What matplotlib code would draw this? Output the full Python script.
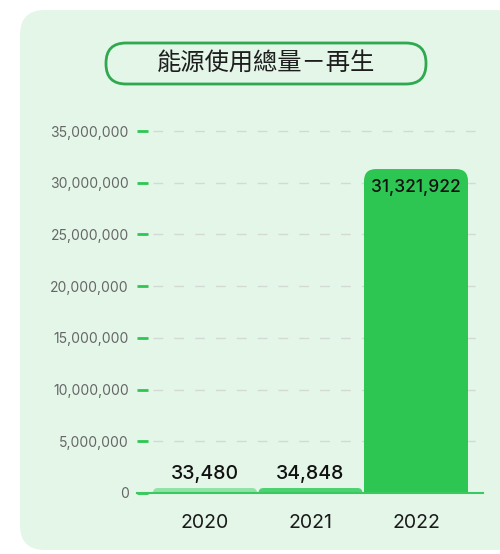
import matplotlib
matplotlib.use("Agg")
import matplotlib.pyplot as plt
from matplotlib.patches import FancyBboxPatch
from matplotlib.ticker import FuncFormatter

# ---- data ----
title = "能源使用總量－再生"
categories = ["2020", "2021", "2022"]
values = [33480, 34848, 31321922]
bar_colors = ["#8fe3a5", "#4dd271", "#2dc653"]
yticks = [0, 5000000, 10000000, 15000000, 20000000, 25000000, 30000000, 35000000]

W, H = 500, 554
fig = plt.figure(figsize=(W / 100, H / 100), dpi=100)
fig.patch.set_facecolor("white")

panel_color = "#e3f6e8"
panel = FancyBboxPatch((20 / W, 1 - 550 / H), 500 / W, 540 / H,
                       boxstyle="round,pad=0,rounding_size=0.05",
                       mutation_aspect=W / H,
                       transform=fig.transFigure, fc=panel_color, ec="none", zorder=-3)
fig.patches.append(panel)

tb = FancyBboxPatch((106 / W, 1 - 84 / H), 320 / W, 41 / H,
                    boxstyle="round,pad=0,rounding_size=0.04",
                    mutation_aspect=W / H,
                    transform=fig.transFigure, fc=panel_color, ec="#2fa84f", lw=2, zorder=-2)
fig.patches.append(tb)
fig.text(266 / W, 1 - 64 / H, title, ha="center", va="center", fontsize=17.5,
         family=["Noto Sans CJK TC", "DejaVu Sans"], fontweight="medium",
         color="#1e1e1e", zorder=2)

ax = fig.add_axes([137 / W, 1 - 493 / H, (483 - 137) / W, (493 - 122) / H])
ax.set_facecolor("none")
px_per_unit_x = 105.5
ymax = 35000000 * (493 - 122) / (493 - 131)
ax.set_xlim(-(205 - 137) / px_per_unit_x, (483 - 205) / px_per_unit_x)
ax.set_ylim(0, ymax)

ux = 1 / px_per_unit_x
uy = 35000000 / (493 - 131)
aspect = uy / ux

green = "#2dc653"
bw = 104 / px_per_unit_x
xs = list(range(len(categories)))
for x, v, c in zip(xs, values, bar_colors):
    big = v > 50 * uy
    r_px = 12 if big else 5
    h_disp = max(v, 5 * uy)
    r = r_px * ux
    p = FancyBboxPatch((x - bw / 2, -r_px * uy), bw, h_disp + r_px * uy,
                       boxstyle=f"round,pad=0,rounding_size={r}",
                       mutation_aspect=aspect, fc=c, ec="none", zorder=3)
    ax.add_patch(p)
    label = f"{v:,}"
    if big:
        ax.annotate(label, (x, v), xytext=(0, -13), textcoords="offset points",
                    ha="center", va="center", fontsize=12.5, fontweight="medium",
                    family="Inter", color="#111111", zorder=4)
    else:
        ax.annotate(label, (x, h_disp), xytext=(0, 10), textcoords="offset points",
                    ha="center", va="center", fontsize=14, fontweight="medium",
                    family="Inter", color="#111111", zorder=4)

ax.hlines(yticks[1:], -0.49, ax.get_xlim()[1], colors="#d3dad4", lw=1,
          linestyles=(0, (7, 8)), zorder=1)

ax.set_yticks(yticks)
ax.yaxis.set_major_formatter(FuncFormatter(lambda v, p: f"{int(v):,}"))
ax.set_xticks(xs)
ax.set_xticklabels(categories)
ax.tick_params(axis="y", direction="in", length=8, width=2, color=green, pad=6,
               labelsize=10, labelcolor="#666666")
ax.tick_params(axis="x", length=0, pad=15, labelsize=14, labelcolor="#1a1a1a")
for lab in ax.get_yticklabels() + ax.get_xticklabels():
    lab.set_family("Inter")

for s in ["top", "right", "left"]:
    ax.spines[s].set_visible(False)
ax.spines["bottom"].set_color("#3cc860")
ax.spines["bottom"].set_linewidth(1.5)
ax.spines["bottom"].set_zorder(5)

fig.savefig("out.png", dpi=100, facecolor=fig.get_facecolor())
